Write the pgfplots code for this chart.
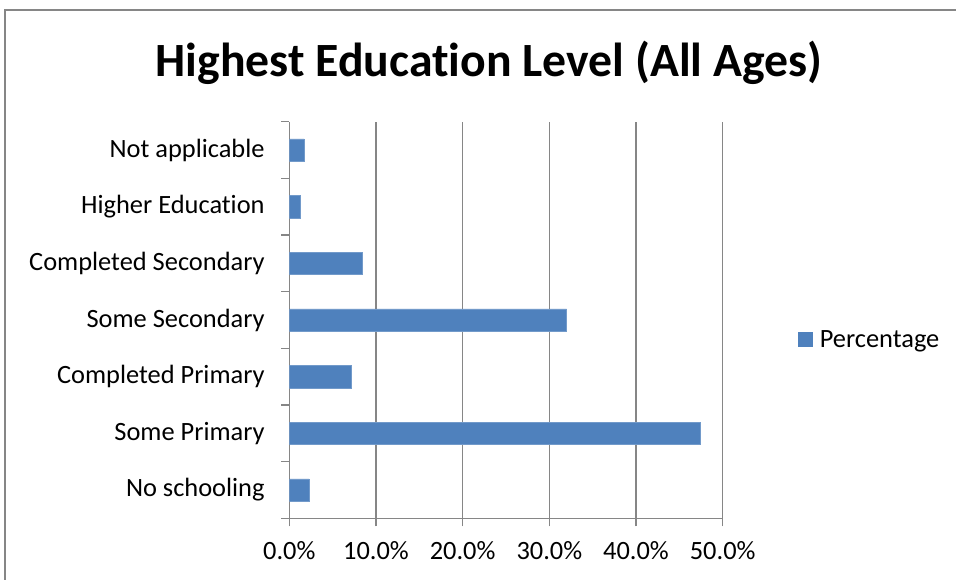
\documentclass[border=0pt]{standalone}
\usepackage{pgfplots}
\pgfplotsset{compat=1.18}
\usepackage{fontspec}
\setmainfont{Carlito}[Ligatures=NoCommon]
\definecolor{barblue}{HTML}{4F81BD}
\definecolor{gridgray}{HTML}{868686}
\begin{document}
\begin{tikzpicture}
\useasboundingbox (0,0) rectangle (717pt,434.25pt);
\draw[gridgray, line width=0.8pt] (3.75pt,-20pt) rectangle (760pt,426.75pt);
\node[font=\fontsize{35.8}{43}\selectfont\bfseries, anchor=base] at (366.75pt,376.5pt) {Highest Education Level (All Ages)};
\begin{axis}[
  at={(216.98pt,45.53pt)}, anchor=south west,
  scale only axis, width=325.05pt, height=297.45pt,
  xbar, bar width=16.8pt,
  xmin=0, xmax=50, ymin=-0.5, ymax=6.5,
  xtick={0,10,...,50},
  xticklabels={0.0\%,10.0\%,20.0\%,30.0\%,40.0\%,50.0\%},
  ytick={0,...,6},
  yticklabels={No schooling, Some Primary, Completed Primary, Some Secondary, Completed Secondary, Higher Education, Not applicable},
  minor ytick={-0.5,0.5,...,6.5},
  axis lines*=left,
  axis line style={gridgray, line width=1pt},
  xmajorgrids, major grid style={gridgray, line width=1pt},
  tick align=outside, major tick length=6pt, minor tick length=6pt,
  tick style={gridgray, line width=1pt},
  every major y tick/.append style={draw=none},
  tick label style={font=\fontsize{19.8}{23}\selectfont, text=black},
  xticklabel style={yshift=-7.5pt},
  yticklabel style={xshift=-9pt},
  legend style={at={(1.165,0.45)}, anchor=west, draw=none, fill=none, font=\fontsize{19.8}{23}\selectfont},
  legend image code/.code={\fill[barblue, draw=none] (0pt,-5.6pt) rectangle (11.25pt,5.6pt); \path[draw=none, fill=none] (0pt,0pt) -- (14pt,0pt);},
]
\addplot[fill=barblue, draw=barblue!80!white] coordinates {
(2.3,0) (47.4,1) (7.1,2) (32.0,3) (8.45,4) (1.25,5) (1.7,6)};
\addlegendentry{Percentage}
\end{axis}
\end{tikzpicture}
\end{document}
